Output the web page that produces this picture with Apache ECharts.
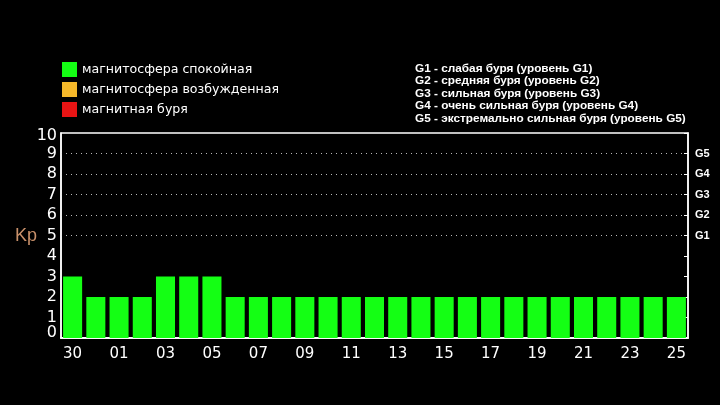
<!DOCTYPE html>
<html><head><meta charset="utf-8">
<script src="https://cdn.jsdelivr.net/npm/echarts@6/dist/echarts.min.js"></script>
<style>html,body{margin:0;padding:0;background:#000;}#c{width:720px;height:405px;}</style>
</head><body><div id="c"></div>
<script>
const days = ['30','31','01','02','03','04','05','06','07','08','09','10','11','12','13','14','15','16','17','18','19','20','21','22','23','24','25'];
const kp   = [3,2,2,2,3,3,3,2,2,2,2,2,2,2,2,2,2,2,2,2,2,2,2,2,2,2,2];
const legendNames = ['магнитосфера спокойная','магнитосфера возбужденная','магнитная буря'];
const legendColors = ['#14ff14','#f5b82a','#e81414'];
const gLabels = ['','','','','','G1','G2','G3','G4','G5',''];
const gDesc = [
  'G1 - слабая буря (уровень G1)',
  'G2 - средняя буря (уровень G2)',
  'G3 - сильная буря (уровень G3)',
  'G4 - очень сильная буря (уровень G4)',
  'G5 - экстремально сильная буря (уровень G5)'
];
const yMin = 0, yMax = 10;
const quiet = kp.map(v => v < 4 ? v : null);
const active = kp.map(v => v === 4 ? v : null);
const storm = kp.map(v => v >= 5 ? v : null);
const gridColors = gLabels.map(g => g ? '#b8b8b8' : 'rgba(0,0,0,0)');

const yFont = {color: '#fff', fontSize: 16, fontFamily: 'DejaVu Sans'};

const chart = echarts.init(document.getElementById('c'));
chart.setOption({
  backgroundColor: '#000',
  animation: false,
  grid: {left: 61, right: 32, top: 133, bottom: 67, show: true, borderColor: '#fff', borderWidth: 1.5, backgroundColor: 'transparent'},
  legend: {
    orient: 'vertical', left: 62, top: 62, padding: 0, itemWidth: 15, itemHeight: 15, itemGap: 5,
    icon: 'rect', selectedMode: false,
    textStyle: {color: '#fff', fontSize: 12.6, fontFamily: 'DejaVu Sans'},
    data: legendNames
  },
  graphic: [
    {type: 'text', left: 415, top: 62, style: {text: gDesc.join('\n'), fill: '#fff', font: 'bold 11.8px "Liberation Sans"', lineHeight: 12.6}},
    {type: 'text', left: 15, top: 227, style: {text: 'Kp', fill: '#c8906a', font: '18px "Liberation Sans"'}}
  ],
  xAxis: [
    {type: 'category', data: days, position: 'bottom',
     axisLine: {lineStyle: {color: '#fff', width: 1.5}},
     axisTick: {inside: true, length: 4, interval: 0, lineStyle: {color: '#fff'}},
     axisLabel: {interval: 1, color: '#fff', fontSize: 15, fontFamily: 'DejaVu Sans', margin: 9}},
    {type: 'category', data: days, position: 'top',
     axisLine: {lineStyle: {color: '#fff', width: 1.5}},
     axisTick: {inside: true, length: 5, interval: 0, lineStyle: {color: '#fff'}},
     axisLabel: {show: false}}
  ],
  yAxis: [
    {type: 'value', min: yMin, max: yMax, interval: 1, position: 'left',
     axisLine: {show: true, lineStyle: {color: '#fff', width: 1.5}},
     axisTick: {show: false},
     axisLabel: Object.assign({margin: 4, formatter: (v) => (v === yMin || v === yMax) ? '' : String(v)}, yFont),
     splitLine: {show: true, lineStyle: {type: [1, 4], color: gridColors, width: 1}}},
    {type: 'value', min: yMin, max: yMax, interval: 1, position: 'right',
     axisLine: {show: true, lineStyle: {color: '#fff', width: 1.5}},
     axisTick: {show: true, inside: true, length: 4, lineStyle: {color: '#fff'}},
     axisLabel: {color: '#fff', fontSize: 11, fontWeight: 'bold', fontFamily: 'Liberation Sans', margin: 7,
                 formatter: (v) => gLabels[v] || ''},
     splitLine: {show: false}},
    // end labels (min / max), pulled slightly inside the plot box
    {type: 'value', min: yMin, max: yMax, interval: yMax - yMin, position: 'left',
     axisLine: {show: false}, axisTick: {show: false}, splitLine: {show: false},
     axisLabel: {margin: 4, showMinLabel: true, showMaxLabel: true,
                 formatter: (v) => v === yMin ? '{lo|' + v + '}' : '{hi|' + v + '}',
                 rich: {lo: Object.assign({padding: [0, 0, 11, 0]}, yFont),
                        hi: Object.assign({padding: [6, 0, 0, 0]}, yFont)}}}
  ],
  series: [
    {name: legendNames[0], type: 'bar', stack: 'kp', data: quiet, barCategoryGap: '18%', itemStyle: {color: legendColors[0]}},
    {name: legendNames[1], type: 'bar', stack: 'kp', data: active, itemStyle: {color: legendColors[1]}},
    {name: legendNames[2], type: 'bar', stack: 'kp', data: storm, itemStyle: {color: legendColors[2]}}
  ]
});
</script></body></html>
